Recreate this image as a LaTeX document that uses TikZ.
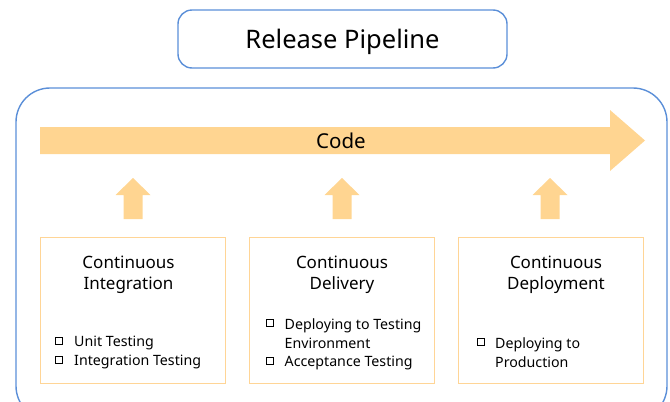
\documentclass[tikz,border=0pt]{standalone}
\usepackage{fontspec}
\setmainfont{Noto Sans}
\definecolor{pipeblue}{HTML}{5B8FD8}
\definecolor{codeor}{HTML}{FFD591}
\definecolor{boxor}{HTML}{FFD596}
\begin{document}
\begin{tikzpicture}[x=1pt,y=-1pt,
  rbox/.style={draw=pipeblue,line width=1.4pt,rounded corners=14pt},
  stagebox/.style={draw=boxor,line width=1.4pt,minimum width=185pt,minimum height=146pt,anchor=north west,inner sep=0pt},
  stagetitle/.style={align=center,font=\fontsize{17}{21.5}\selectfont,inner sep=0pt},
  itemtext/.style={anchor=west,align=left,font=\fontsize{14.2}{19}\selectfont,inner sep=0pt},
  sq/.style={draw=black,line width=0.6pt,minimum size=7pt,inner sep=0pt},
  arrowfill/.style={fill=codeor,draw=none}]
\useasboundingbox (0,0) rectangle (670,402);
% title
\node[rbox,minimum width=329pt,minimum height=58pt,inner sep=0pt] (title) at (342.5,39) {};
\node[font=\fontsize{25.5}{30}\selectfont,inner sep=0pt] (titletext) at (342.5,42) {Release Pipeline};
% outer box
\draw[draw=pipeblue,line width=1.4pt,rounded corners=34pt] (16,88) rectangle (667,420);
% code arrow
\path[arrowfill] (40,127) -- (610,127) -- (610,110) -- (645,140.5) -- (610,171) -- (610,154) -- (40,154) -- cycle;
\node[font=\fontsize{20.5}{24}\selectfont,inner sep=0pt] (code) at (341,140.5) {Code};
% stage boxes
\node[stagebox] (ci) at (40,237) {};
\node[stagebox] (cd) at (248.5,237) {};
\node[stagebox] (cdep) at (458,237) {};
% up arrows
\foreach \cx/\nm in {133/ua, 342/ub, 550/uc}{
  \path[arrowfill] (\cx-9.5,219) -- (\cx-9.5,195) -- (\cx-17.5,195) -- (\cx,178) -- (\cx+17.5,195) -- (\cx+9.5,195) -- (\cx+9.5,219) -- cycle;
}
% titles
\node[stagetitle] (cit) at (128.5,275) {Continuous\\Integration};
\node[stagetitle] (cdt) at (342,275) {Continuous\\Delivery};
\node[stagetitle] (cdept) at (556,275) {Continuous\\Deployment};
% items CI
\node[sq] (s1) at (59,341) {};
\node[itemtext] (i1) at (74,342.5) {Unit Testing};
\node[sq] (s2) at (59,360) {};
\node[itemtext] (i2) at (74,361.5) {Integration Testing};
% items CD
\node[sq] (s3) at (269.5,322.5) {};
\node[itemtext] (i3) at (284.5,333.5) {Deploying to Testing\\Environment};
\node[sq] (s4) at (269.5,361) {};
\node[itemtext] (i4) at (284.5,362.5) {Acceptance Testing};
% items CDep
\node[sq] (s5) at (481,342) {};
\node[itemtext] (i5) at (495,353) {Deploying to\\Production};
\end{tikzpicture}
\end{document}
